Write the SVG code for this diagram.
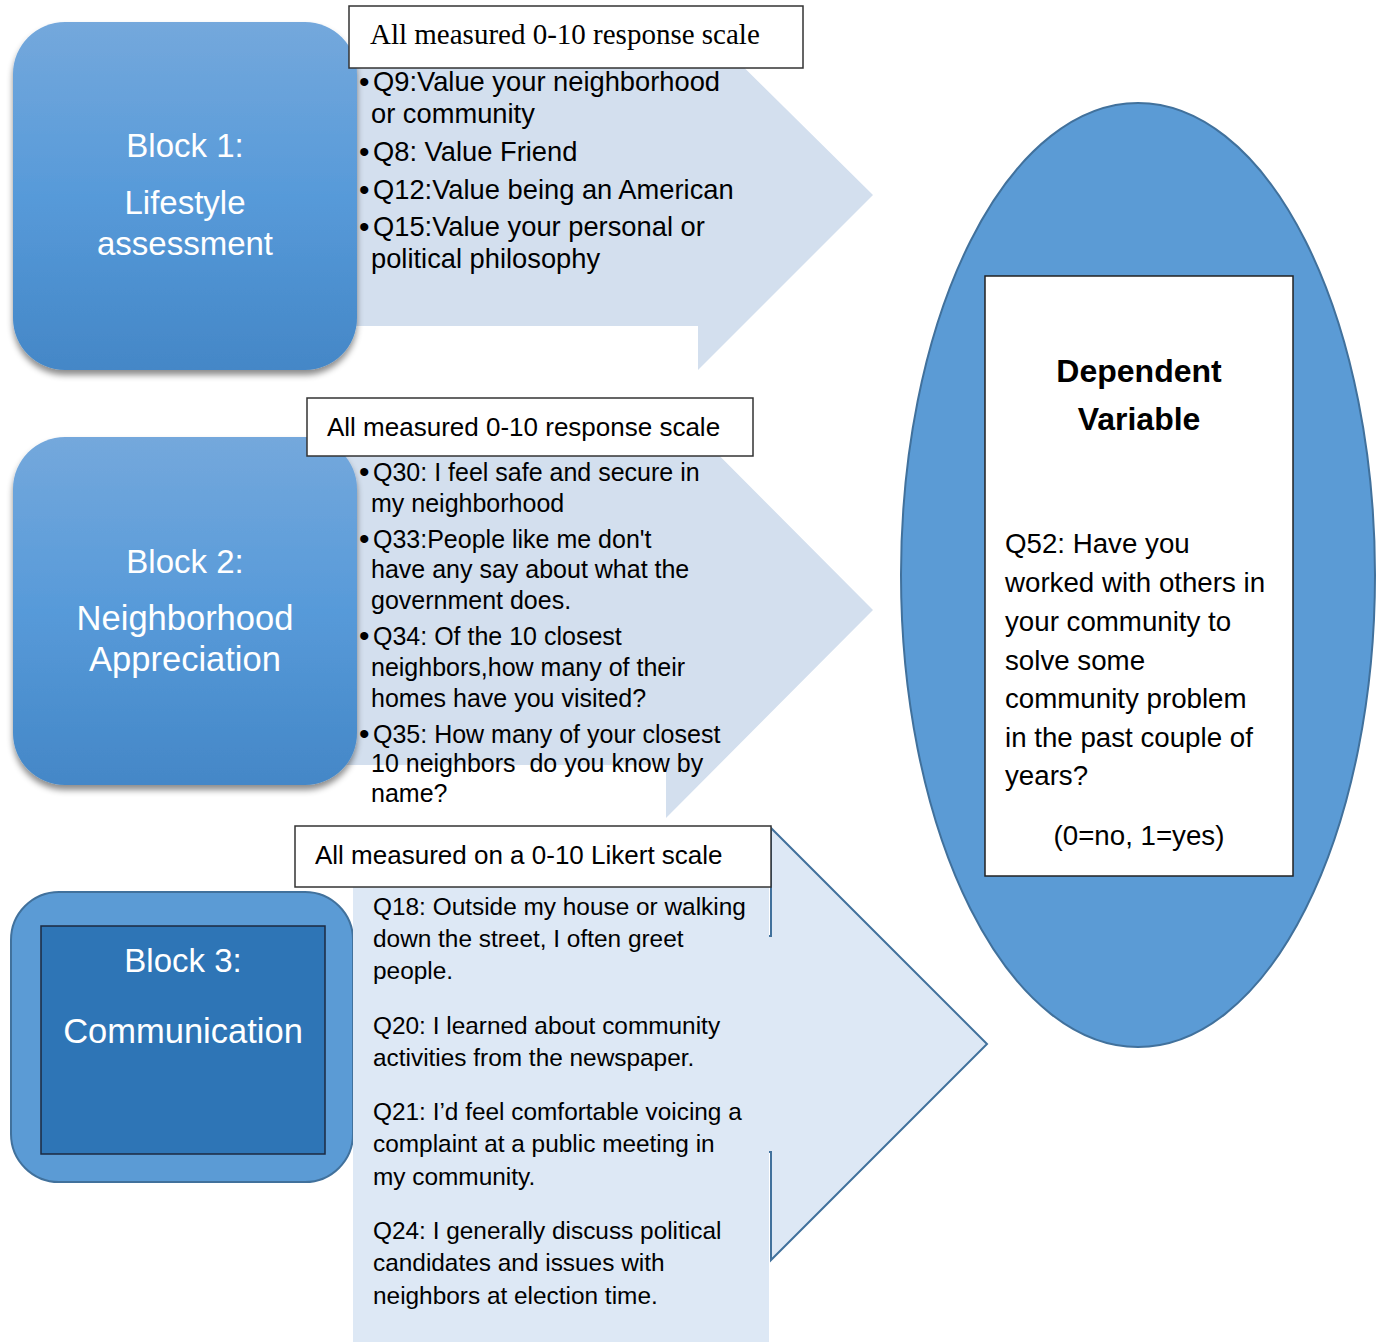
<svg xmlns="http://www.w3.org/2000/svg" width="1384" height="1342" viewBox="0 0 1384 1342">
<defs>
<linearGradient id="blockGrad" x1="0" y1="0" x2="0" y2="1">
<stop offset="0" stop-color="#74a8dc"/>
<stop offset="0.5" stop-color="#579ad9"/>
<stop offset="1" stop-color="#4487c7"/>
</linearGradient>
<filter id="shadow" x="-10%" y="-10%" width="120%" height="125%">
<feDropShadow dx="0" dy="5" stdDeviation="3" flood-color="#000" flood-opacity="0.45"/>
</filter>
</defs>
<style>
.arrowA{fill:#d3dfee;stroke:none}
.arrowB{fill:#dde8f5;stroke:#41719c;stroke-width:2}
.textbox{fill:#dde8f5;stroke:none}
.hdr{fill:#fff;stroke:#333;stroke-width:1.5}
.blk{fill:url(#blockGrad);filter:url(#shadow)}
.btitle{font-family:"Liberation Sans",Arial,sans-serif;font-size:33px;fill:#fff;text-anchor:middle}
.big{font-size:34.5px}
.serif{font-family:"Liberation Serif","Times New Roman",serif;font-size:29px;fill:#000}
.sans26{font-family:"Liberation Sans",Arial,sans-serif;font-size:26px;fill:#000}
.sans27{font-family:"Liberation Sans",Arial,sans-serif;font-size:27.3px;fill:#000}
.sans25{font-family:"Liberation Sans",Arial,sans-serif;font-size:25px;fill:#000}
.sans24{font-family:"Liberation Sans",Arial,sans-serif;font-size:24.4px;fill:#000}
.bul{font-family:"Liberation Sans",Arial,sans-serif;font-size:30px;fill:#000}
.dv{font-family:"Liberation Sans",Arial,sans-serif;font-size:27.7px;fill:#000}
.dvb{font-family:"Liberation Sans",Arial,sans-serif;font-size:32px;font-weight:bold;fill:#000;text-anchor:middle}
</style>

<g id="connectors">
<polygon id="arrow1" class="arrowA" points="340,65 698,65 698,22 873,195 698,370 698,326 340,326"/>
<polygon id="arrow2" class="arrowA" points="340,455 666,455 666,402 873,610 666,818 666,765 340,765"/>
<polygon id="arrow3" class="arrowB" points="400,936 771,936 771,828 987,1044 771,1260 771,1152 400,1152"/>
</g>

<g id="block1">
<rect class="blk" x="13" y="22" width="344" height="348" rx="52" ry="52"/>
<text class="btitle" x="185" y="157">Block 1:</text>
<text class="btitle" x="185" y="214">Lifestyle</text>
<text class="btitle" x="185" y="255">assessment</text>
</g>

<g id="block2">
<rect class="blk" x="13" y="437" width="344" height="348" rx="52" ry="52"/>
<text class="btitle" x="185" y="573">Block 2:</text>
<text class="btitle big" x="185" y="630">Neighborhood</text>
<text class="btitle big" x="185" y="671">Appreciation</text>
</g>

<g id="block3">
<rect x="11" y="892" width="342" height="290" rx="48" ry="48" fill="#5b9bd5" stroke="#41719c" stroke-width="2"/>
<rect x="41" y="926" width="284" height="228" fill="#2e75b6" stroke="#1c2a40" stroke-width="1.5"/>
<text class="btitle" x="183" y="972">Block 3:</text>
<text class="btitle big" x="183" y="1043">Communication</text>
</g>

<g id="list1">
<rect class="hdr" x="349" y="6" width="454" height="62"/>
<text class="serif" x="370" y="44">All measured 0-10 response scale</text>
<text class="bul" x="359" y="92">•</text>
<text class="sans27" x="373" y="91">Q9:Value your neighborhood</text>
<text class="sans27" x="371" y="123">or community</text>
<text class="bul" x="359" y="162">•</text>
<text class="sans27" x="373" y="161">Q8: Value Friend</text>
<text class="bul" x="359" y="200">•</text>
<text class="sans27" x="373" y="199">Q12:Value being an American</text>
<text class="bul" x="359" y="237">•</text>
<text class="sans27" x="373" y="236">Q15:Value your personal or</text>
<text class="sans27" x="371" y="268">political philosophy</text>
</g>

<g id="list2">
<rect class="hdr" x="307" y="398" width="446" height="58"/>
<text class="sans26" x="327" y="436">All measured 0-10 response scale</text>
<text class="bul" x="359" y="482">•</text>
<text class="sans25" x="373" y="481">Q30: I feel safe and secure in</text>
<text class="sans25" x="371" y="512">my neighborhood</text>
<text class="bul" x="359" y="549">•</text>
<text class="sans25" x="373" y="548">Q33:People like me don't</text>
<text class="sans25" x="371" y="578">have any say about what the</text>
<text class="sans25" x="371" y="609">government does.</text>
<text class="bul" x="359" y="646">•</text>
<text class="sans25" x="373" y="645">Q34: Of the 10 closest</text>
<text class="sans25" x="371" y="676">neighbors,how many of their</text>
<text class="sans25" x="371" y="707">homes have you visited?</text>
<text class="bul" x="359" y="744">•</text>
<text class="sans25" x="373" y="743">Q35: How many of your closest</text>
<text class="sans25" x="371" y="772" xml:space="preserve">10 neighbors  do you know by</text>
<text class="sans25" x="371" y="802">name?</text>
</g>

<g id="list3">
<rect class="textbox" x="353" y="886" width="416" height="456"/>
<rect class="hdr" x="295" y="826" width="476" height="61"/>
<text class="sans26" x="315" y="864">All measured on a 0-10 Likert scale</text>
<text class="sans24" x="373" y="915">Q18: Outside my house or walking</text>
<text class="sans24" x="373" y="947">down the street, I often greet</text>
<text class="sans24" x="373" y="979">people.</text>
<text class="sans24" x="373" y="1034">Q20: I learned about community</text>
<text class="sans24" x="373" y="1066">activities from the newspaper.</text>
<text class="sans24" x="373" y="1120">Q21: I’d feel comfortable voicing a</text>
<text class="sans24" x="373" y="1152">complaint at a public meeting in</text>
<text class="sans24" x="373" y="1185">my community.</text>
<text class="sans24" x="373" y="1239">Q24: I generally discuss political</text>
<text class="sans24" x="373" y="1271">candidates and issues with</text>
<text class="sans24" x="373" y="1304">neighbors at election time.</text>
</g>

<g id="dependent">
<ellipse cx="1138" cy="575" rx="237" ry="472" fill="#5b9bd5" stroke="#41719c" stroke-width="2"/>
<rect x="985" y="276" width="308" height="600" fill="#fff" stroke="#222" stroke-width="1.5"/>
<text class="dvb" x="1139" y="382">Dependent</text>
<text class="dvb" x="1139" y="430">Variable</text>
<text class="dv" x="1005" y="553">Q52: Have you</text>
<text class="dv" x="1005" y="592">worked with others in</text>
<text class="dv" x="1005" y="631">your community to</text>
<text class="dv" x="1005" y="670">solve some</text>
<text class="dv" x="1005" y="708">community problem</text>
<text class="dv" x="1005" y="747">in the past couple of</text>
<text class="dv" x="1005" y="785">years?</text>
<text class="dv" x="1139" y="845" text-anchor="middle">(0=no, 1=yes)</text>
</g>
</svg>
